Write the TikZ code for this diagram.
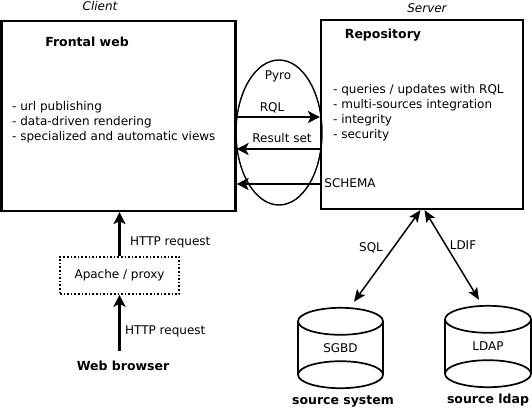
\documentclass[tikz,border=0pt]{standalone}
\usepackage{fontspec}
\setmainfont{DejaVu Sans}
\usetikzlibrary{arrows.meta,shapes.geometric}
\newcommand\dsz{\fontsize{12}{15}\selectfont}
\newcommand\bsz{\fontsize{12.5}{15}\selectfont\bfseries}
\begin{document}
\begin{tikzpicture}[x=1pt,y=-1pt,
  txt/.style={font=\dsz, inner sep=1pt},
  title/.style={font=\bsz, inner sep=1pt},
  ital/.style={font=\dsz\itshape, inner sep=1pt},
  list/.style={font=\dsz, align=left, inner sep=0pt, anchor=west},
  box/.style={draw, line width=2.2pt, inner sep=0pt},
  arr/.style={line width=2.2pt, -{Stealth[length=12pt,width=12pt,inset=3pt]}},
  darr/.style={line width=1.5pt, {Stealth[length=12pt,width=10pt,inset=2.5pt]}-{Stealth[length=12pt,width=10pt,inset=2.5pt]}},
  cylline/.style={line width=1.7pt},
  dbnode/.style={font=\dsz, inner sep=0pt}]
\useasboundingbox (0,0) rectangle (532,413);
% boxes
\node[box, minimum width=234pt, minimum height=190pt] (frontal) at (118.5,116) {};
\node[box, minimum width=202pt, minimum height=189pt] (repo) at (422,114.5) {};
\node[title] (ftitle) at (87,42) {Frontal web};
\node[title] (rtitle) at (383,35) {Repository};
\node[list] (flist) at (12,122) {- url publishing\\- data-driven rendering\\- specialized and automatic views};
\node[list] (rlist) at (333,112.5) {- queries / updates with RQL\\- multi-sources integration\\- integrity\\- security};
\node[ital] (client) at (100,6) {Client};
\node[ital] (server) at (427,8) {Server};
% Pyro
\node[draw, ellipse, line width=1.4pt, minimum width=86pt, minimum height=145pt, inner sep=0pt] (pyro) at (279,132.5) {};
\node[txt] (pyrol) at (278,76) {Pyro};
\coordinate (yrql) at (0,117);
\coordinate (yres) at (0,149);
\coordinate (ysch) at (0,184);
\draw[arr] (frontal.east |- yrql) -- (repo.west |- yrql);
\draw[arr] (repo.west |- yres) -- (frontal.east |- yres);
\draw[arr] (repo.west |- ysch) -- (frontal.east |- ysch);
\node[txt] (rql) at (272,108) {RQL};
\node[txt] (res) at (282,138) {Result set};
\node[txt] (sch) at (350,183) {SCHEMA};
% apache and browser
\node[draw, dotted, line width=1.6pt, minimum width=119pt, minimum height=37pt, font=\dsz] (apache) at (119.5,275.5) {Apache / proxy};
\node[title, inner ysep=10pt] (browser) at (123,366) {Web browser};
\draw[arr] (apache.north) -- (frontal.south -| apache.north);
\draw[arr] (browser.north -| apache.south) -- (apache.south);
\node[txt, anchor=west] (h1) at (129,242) {HTTP request};
\node[txt, anchor=west] (h2) at (124,331) {HTTP request};
% databases
\node[dbnode, minimum width=85pt, minimum height=80pt] (sgbd) at (340.5,348) {SGBD};
\node[dbnode, minimum width=86pt, minimum height=81pt] (ldap) at (488,346.5) {LDAP};
\foreach \c/\rx in {sgbd/42.5, ldap/43}{
  \draw[cylline] ([yshift=-13.5pt]\c.north) ellipse [x radius=\rx pt, y radius=13.5pt];
  \draw[cylline] ([yshift=13.5pt]\c.south) ellipse [x radius=\rx pt, y radius=13.5pt];
  \draw[cylline] ([yshift=-13.5pt]\c.north west) -- ([yshift=13.5pt]\c.south west);
  \draw[cylline] ([yshift=-13.5pt]\c.north east) -- ([yshift=13.5pt]\c.south east);
}
\node[title] (ssys) at (343,401) {source system};
\node[title] (sldap) at (488,400) {source ldap};
\draw[darr] ([xshift=-1.5pt]repo.south) -- ([xshift=13.5pt,yshift=6pt]sgbd.north);
\draw[darr] ([xshift=2.5pt]repo.south) -- ([xshift=-9pt,yshift=6pt]ldap.north);
\node[txt] (sql) at (371,248) {SQL};
\node[txt] (ldif) at (463,245) {LDIF};
\end{tikzpicture}
\end{document}
